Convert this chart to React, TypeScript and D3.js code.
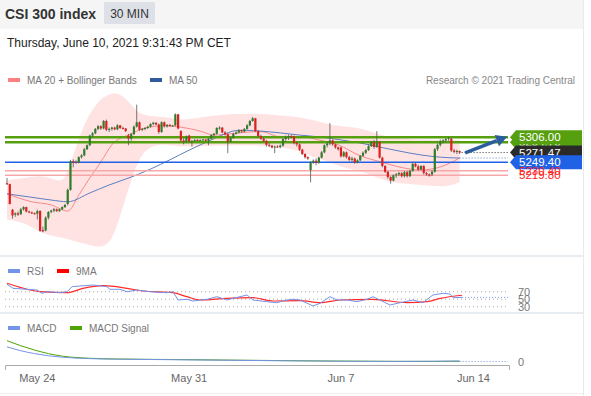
import * as d3 from "d3";

const FONT = '"Liberation Sans", Arial, sans-serif';

// 30 min candles, 11 per session, May 21 .. Jun 10: [open, high, low, close]
const candles: [number, number, number, number][] = [
  // May 21
  [5202, 5214, 5198, 5200], [5200, 5201, 5154, 5155], [5142, 5144, 5122, 5129], [5131, 5136, 5126, 5134],
  [5134, 5138, 5128, 5131], [5132, 5146, 5130, 5143], [5143, 5150, 5140, 5148], [5148, 5149, 5136, 5138],
  [5138, 5140, 5134, 5136], [5136, 5138, 5132, 5134], [5134, 5136, 5131, 5133],
  // May 24
  [5133, 5142, 5120, 5139], [5139, 5141, 5092, 5094], [5096, 5104, 5091, 5093], [5095, 5127, 5093, 5124],
  [5124, 5139, 5120, 5137], [5137, 5142, 5134, 5140], [5140, 5146, 5136, 5143], [5143, 5145, 5137, 5139],
  [5139, 5145, 5137, 5143], [5143, 5150, 5141, 5148], [5148, 5155, 5146, 5153],
  // May 25
  [5155, 5190, 5152, 5187], [5187, 5255, 5185, 5252], [5252, 5256, 5238, 5250], [5250, 5254, 5246, 5248],
  [5249, 5263, 5247, 5261], [5261, 5268, 5258, 5265], [5265, 5282, 5263, 5279], [5279, 5290, 5277, 5288],
  [5288, 5312, 5286, 5310], [5310, 5318, 5306, 5315], [5315, 5327, 5313, 5325],
  // May 26
  [5325, 5334, 5322, 5331], [5331, 5333, 5323, 5326], [5326, 5345, 5324, 5343], [5343, 5346, 5320, 5323],
  [5323, 5328, 5318, 5325], [5325, 5330, 5321, 5328], [5328, 5330, 5322, 5324], [5324, 5336, 5322, 5333],
  [5333, 5334, 5325, 5327], [5327, 5330, 5324, 5326], [5326, 5327, 5318, 5320],
  // May 27
  [5310, 5314, 5288, 5303], [5303, 5316, 5298, 5313], [5313, 5333, 5311, 5330], [5330, 5380, 5328, 5340],
  [5340, 5342, 5320, 5323], [5323, 5327, 5320, 5325], [5325, 5329, 5322, 5327], [5327, 5332, 5325, 5330],
  [5330, 5338, 5328, 5336], [5336, 5341, 5333, 5339], [5339, 5340, 5333, 5335],
  // May 28
  [5335, 5337, 5314, 5318], [5318, 5342, 5316, 5340], [5340, 5342, 5328, 5331], [5331, 5336, 5328, 5334],
  [5334, 5336, 5330, 5332], [5332, 5334, 5330, 5333], [5333, 5360, 5331, 5358], [5358, 5359, 5324, 5326],
  [5320, 5322, 5296, 5299], [5299, 5305, 5290, 5296], [5296, 5310, 5294, 5307],
  // May 31
  [5310, 5312, 5294, 5297], [5297, 5300, 5285, 5298], [5298, 5302, 5296, 5300], [5300, 5302, 5297, 5299],
  [5299, 5301, 5297, 5300], [5300, 5302, 5298, 5301], [5301, 5302, 5296, 5298], [5298, 5305, 5288, 5303],
  [5303, 5313, 5301, 5311], [5311, 5316, 5308, 5314], [5314, 5329, 5312, 5327],
  // Jun 1
  [5327, 5331, 5323, 5328], [5328, 5329, 5315, 5317], [5317, 5320, 5310, 5313], [5313, 5315, 5270, 5296],
  [5296, 5306, 5294, 5305], [5305, 5316, 5303, 5314], [5314, 5320, 5312, 5317], [5317, 5324, 5315, 5322],
  [5322, 5323, 5316, 5319], [5319, 5327, 5317, 5325], [5325, 5336, 5323, 5333],
  // Jun 2
  [5333, 5345, 5331, 5343], [5343, 5352, 5341, 5349], [5349, 5350, 5318, 5320], [5320, 5322, 5306, 5309],
  [5309, 5312, 5300, 5303], [5303, 5306, 5295, 5298], [5298, 5300, 5285, 5289], [5289, 5293, 5284, 5287],
  [5287, 5289, 5281, 5283], [5283, 5287, 5270, 5285], [5285, 5288, 5282, 5284],
  // Jun 3
  [5284, 5290, 5281, 5287], [5287, 5305, 5285, 5302], [5302, 5310, 5296, 5306], [5306, 5312, 5300, 5309],
  [5309, 5312, 5304, 5308], [5308, 5310, 5290, 5293], [5293, 5296, 5285, 5290], [5290, 5292, 5275, 5278],
  [5278, 5280, 5266, 5268], [5268, 5270, 5258, 5261], [5261, 5263, 5255, 5258],
  // Jun 4
  [5232, 5252, 5204, 5250], [5250, 5256, 5246, 5253], [5253, 5258, 5243, 5248], [5248, 5262, 5246, 5260],
  [5260, 5275, 5258, 5272], [5272, 5290, 5270, 5288], [5288, 5296, 5283, 5292], [5292, 5338, 5288, 5299],
  [5299, 5301, 5287, 5290], [5290, 5292, 5280, 5283], [5283, 5285, 5276, 5279],
  // Jun 7
  [5283, 5285, 5260, 5263], [5263, 5275, 5261, 5272], [5272, 5274, 5258, 5261], [5261, 5264, 5252, 5255],
  [5255, 5262, 5250, 5258], [5258, 5260, 5246, 5249], [5249, 5256, 5247, 5254], [5254, 5266, 5252, 5264],
  [5264, 5274, 5262, 5271], [5271, 5280, 5268, 5277], [5277, 5290, 5275, 5286],
  // Jun 8
  [5286, 5298, 5284, 5295], [5295, 5300, 5280, 5284], [5284, 5320, 5282, 5296], [5296, 5297, 5258, 5260],
  [5260, 5262, 5238, 5241], [5241, 5243, 5225, 5228], [5228, 5230, 5212, 5216], [5216, 5218, 5201, 5208],
  [5208, 5222, 5206, 5220], [5220, 5225, 5214, 5222], [5222, 5228, 5218, 5225],
  // Jun 9
  [5225, 5227, 5215, 5218], [5218, 5230, 5215, 5227], [5227, 5230, 5215, 5218], [5218, 5232, 5216, 5230],
  [5230, 5248, 5228, 5246], [5246, 5250, 5238, 5240], [5240, 5244, 5230, 5233], [5233, 5243, 5231, 5241],
  [5241, 5243, 5222, 5225], [5225, 5228, 5219, 5222], [5222, 5224, 5217, 5219],
  // Jun 10
  [5222, 5232, 5218, 5228], [5228, 5282, 5226, 5279], [5279, 5292, 5275, 5289], [5289, 5301, 5285, 5296],
  [5296, 5302, 5292, 5299], [5299, 5305, 5295, 5302], [5302, 5306, 5298, 5304], [5303, 5304, 5273, 5276],
  [5276, 5280, 5270, 5273], [5273, 5278, 5268, 5275], [5275, 5276, 5268, 5271.47],
];

const lastPrice = 5271.47;

const xTickIdx = [11, 66, 121, 169];
const xTickLabels = ["May 24", "May 31", "Jun 7", "Jun 14"];

// MA 20 (candle index, price)
const ma20Idx = [0, 9, 16, 22, 26, 30, 34, 38, 45, 50, 57, 63, 70, 75, 84, 92, 99, 107, 113, 120, 128, 135, 142, 150, 157, 164];
const ma20Val = [5178, 5160, 5153, 5139, 5175, 5214, 5250, 5289, 5314, 5327, 5332, 5329, 5320, 5311, 5316, 5319, 5307, 5307, 5300, 5289, 5264, 5251, 5239, 5232, 5239, 5259];

// MA 50
const ma50Idx = [0, 8, 16, 22, 30, 37, 45, 52, 59, 66, 74, 79, 84, 92, 99, 106, 113, 121, 128, 135, 142, 150, 157, 164];
const ma50Val = [5178, 5171, 5164, 5160, 5180, 5198, 5216, 5234, 5255, 5277, 5300, 5314, 5322, 5320, 5316, 5311, 5307, 5300, 5293, 5284, 5275, 5266, 5261, 5259];

// Bollinger bands
const bandIdx = [0, 7, 12, 18, 21, 25, 29, 34, 38, 41, 45, 48, 52, 58, 64, 74, 87, 99, 106, 111, 117, 121, 129, 135, 140, 150, 160, 164];
const bandUpper = [5209, 5214, 5221, 5208, 5205, 5286, 5352, 5396, 5406, 5406, 5380, 5358, 5354, 5352, 5343, 5356, 5361, 5356, 5352, 5345, 5334, 5331, 5327, 5311, 5305, 5300, 5300, 5300];
const bandLower = [5120, 5112, 5089, 5080, 5078, 5070, 5064, 5055, 5070, 5128, 5209, 5262, 5288, 5290, 5284, 5287, 5289, 5284, 5275, 5261, 5250, 5239, 5228, 5212, 5203, 5198, 5193, 5205];

// support / resistance levels
const levelValues = [5306.0, 5294.7, 5249.4, 5230.4, 5219.8];
const levelKinds = ["res", "res", "pivot", "sup", "sup"];

// forecast arrow (index, price)
const arrowIdx = [166, 181.2];
const arrowVal = [5270.5, 5307.4];

// RSI and its 9 period MA
const rsiIdx = [0, 2.2, 7.2, 10.9, 12.7, 14.5, 19.2, 21.7, 23.6, 26.4, 31.2, 36.2, 37.3, 40.9, 43.5, 47.1, 51.8, 58, 60.1, 62, 65.2, 67.4, 72.5, 76.1, 79.7, 81.9, 87, 89.1, 94.2, 97.8, 101.4, 103.6, 106.2, 110.9, 113.4, 117, 119.6, 123.2, 126.8, 130.4, 132.6, 135.1, 138.8, 142.4, 147.1, 150.7, 154.3, 158, 160.5, 161.6, 164.9];
const rsiVal = [89.7, 79, 76.4, 74.5, 65.7, 70, 67.4, 70, 83.4, 85.2, 87.9, 83.4, 76.4, 76.4, 70, 74.5, 70, 67.4, 70, 47.9, 49.7, 45.2, 49.7, 56.7, 47.9, 52.4, 61.2, 47.9, 43.3, 40.7, 47.9, 49.7, 47.9, 31.9, 39, 56.7, 47.9, 47.9, 43.3, 49.7, 56.7, 47.9, 34.5, 40.7, 47.9, 40.7, 61.2, 65.7, 64, 54, 54.9];
const rsiMaIdx = [0, 4.7, 12, 21.7, 27.5, 34.8, 43.5, 49.3, 60.1, 65.2, 69.9, 79.7, 89.1, 96.4, 106.2, 113.4, 120.7, 132.6, 144.9, 152.2, 156.9, 164.9];
const rsiMaVal = [92.4, 81.7, 70, 67.4, 79, 86.1, 79, 71.9, 67.4, 56.7, 47.9, 52.4, 54, 45.2, 46, 40.7, 47.9, 49.7, 40.7, 43.3, 52, 60.5];
const rsiLevels = [70, 50, 30];

// MACD
const macdIdx = [0, 5, 10, 15, 20, 30, 40, 60, 80, 100, 120, 140, 155, 164];
const macdVal = [41, 30, 22, 16, 12, 8, 6.5, 5, 3.5, 2, 0.8, 0.3, 0.8, 1.5];
const signalVal = [58, 44, 32, 22, 15, 9, 7, 5.5, 4, 2.5, 1.2, 0.4, 0.2, 0.6];

const colors = {
  up: "#2f7d2a",
  down: "#e01e1e",
  wick: "#555",
  band: "#ffe3e3",
  ma20: "#f58a8a",
  ma50: "#5b7fc2",
  res: "#56a010",
  pivot: "#1f62e6",
  sup: "#f7a7a7",
  rsi: "#7593e8",
  rsiMa: "#ff2a2a",
  macd: "#7593e8",
  signal: "#4ea306",
};

const x = d3.scaleLinear().domain([0, 182]).range([7, 509.3]);
const yP = d3.scaleLinear().domain([5249.4, 5306]).range([162.3, 137.3]);
const yR = d3.scaleLinear().domain([30, 70]).range([306.7, 291.7]);
const yM = d3.scaleLinear().domain([0, 60]).range([361.5, 340]);

const plotRight = 508;

function zipLine(idx: number[], vals: number[], ys: d3.ScaleLinear<number, number>, curve = d3.curveMonotoneX) {
  const pts = idx.map((d, i) => [d, vals[i]] as [number, number]);
  return d3.line<[number, number]>().x((d) => x(d[0])).y((d) => ys(d[1])).curve(curve)(pts) ?? "";
}

function PriceTag({ y, text, fill }: { y: number; text: string; fill: string }) {
  const left = 510;
  const right = 582;
  const h = 7;
  return (
    <g>
      <path d={`M${left},${y} L${left + 6},${y - h} L${right},${y - h} L${right},${y + h} L${left + 6},${y + h} Z`} fill={fill} />
      <text x={519} y={y + 4} fontSize={11.5} fill="#fff">{text}</text>
    </g>
  );
}

export default function App() {
  const last = candles.length - 1;

  const bandPts = bandIdx.map((d, i) => ({ i: d, u: bandUpper[i], l: bandLower[i] }));
  const bandPath = d3.area<{ i: number; u: number; l: number }>()
    .x((d) => x(d.i))
    .y0((d) => yP(d.l))
    .y1((d) => yP(d.u))
    .curve(d3.curveBasis)(bandPts) ?? "";

  const ax0 = x(arrowIdx[0]);
  const ay0 = yP(arrowVal[0]);
  const ax1 = x(arrowIdx[1]);
  const ay1 = yP(arrowVal[1]);
  const ang = Math.atan2(ay1 - ay0, ax1 - ax0);
  const headLen = 11;
  const headW = 6;
  const bx = ax1 - headLen * Math.cos(ang);
  const by = ay1 - headLen * Math.sin(ang);
  const head = `M${ax1},${ay1} L${bx + headW * Math.sin(ang)},${by - headW * Math.cos(ang)} L${bx - headW * Math.sin(ang)},${by + headW * Math.cos(ang)} Z`;

  return (
    <svg width={591} height={396} style={{ position: "absolute", left: 0, top: 0, background: "#fff" }} fontFamily={FONT}>
      {/* header */}
      <rect x={0} y={0} width={583} height={29} fill="#f5f5f5" />
      <text x={5} y={19} fontSize={14} fontWeight="bold" fill="#333">CSI 300 index</text>
      <rect x={104} y={2} width={51} height={22} fill="#dde1e7" rx={1} />
      <text x={129.5} y={18} fontSize={12} fill="#333" textAnchor="middle">30 MIN</text>
      <text x={7} y={47} fontSize={12} fill="#222">Thursday, June 10, 2021 9:31:43 PM CET</text>

      {/* legend */}
      <rect x={8} y={78} width={12} height={4} fill="#ff8080" />
      <text x={27} y={84} fontSize={10} fill="#777">MA 20 + Bollinger Bands</text>
      <rect x={150} y={78} width={12} height={4} fill="#2f5b9c" />
      <text x={169} y={84} fontSize={10} fill="#777">MA 50</text>
      <text x={575} y={84} fontSize={10} fill="#888" textAnchor="end">Research © 2021 Trading Central</text>

      {/* borders */}
      <line x1={583.5} x2={583.5} y1={0} y2={396} stroke="#eaeaea" />
      <line x1={0} x2={583} y1={256} y2={256} stroke="#e8edf2" strokeWidth={2} />
      <line x1={0} x2={583} y1={313} y2={313} stroke="#e8edf2" strokeWidth={2} />
      <line x1={0} x2={583} y1={393.5} y2={393.5} stroke="#eeeeee" />

      {/* bollinger + MAs */}
      <path d={bandPath} fill={colors.band} />
      <path d={zipLine(ma20Idx, ma20Val, yP)} fill="none" stroke={colors.ma20} strokeWidth={1} />
      <path d={zipLine(ma50Idx, ma50Val, yP)} fill="none" stroke={colors.ma50} strokeWidth={1} />
      <line x1={x(last)} x2={plotRight} y1={yP(ma50Val[ma50Val.length - 1])} y2={yP(ma50Val[ma50Val.length - 1])}
        stroke={colors.ma50} strokeDasharray="1,2" />

      {/* levels */}
      {levelValues.map((v, i) => (
        <line key={i} x1={5} x2={plotRight} y1={yP(v)} y2={yP(v)}
          stroke={colors[levelKinds[i] as "res" | "pivot" | "sup"]}
          strokeWidth={levelKinds[i] === "res" ? 2.5 : 1.5} />
      ))}

      {/* candles */}
      {candles.map(([o, h, l, c], i) => {
        const cx = x(i);
        const top = yP(Math.max(o, c));
        const bh = Math.max(1, Math.abs(yP(o) - yP(c)));
        const fill = c > o ? colors.up : c < o ? colors.down : "#777";
        return (
          <g key={i}>
            <line x1={cx} x2={cx} y1={yP(h)} y2={yP(l)} stroke={colors.wick} strokeWidth={0.8} />
            <rect x={cx - 1.1} y={top} width={2.2} height={bh} fill={fill} />
          </g>
        );
      })}

      {/* last price projection */}
      <line x1={x(last) + 2} x2={plotRight} y1={yP(lastPrice)} y2={yP(lastPrice)} stroke="#333" strokeDasharray="1,2" />

      {/* forecast arrow */}
      <line x1={ax0} y1={ay0} x2={bx} y2={by} stroke="#2b5d9e" strokeWidth={3.5} />
      <path d={head} fill="#2b5d9e" />

      {/* tags */}
      <PriceTag y={yP(levelValues[1])} text={levelValues[1].toFixed(2)} fill={colors.res} />
      <PriceTag y={yP(lastPrice)} text={lastPrice.toFixed(2)} fill="#2a2a2a" />
      <PriceTag y={yP(levelValues[0])} text={levelValues[0].toFixed(2)} fill={colors.res} />
      <PriceTag y={yP(levelValues[2])} text={levelValues[2].toFixed(2)} fill={colors.pivot} />
      {[3, 4].map((k) => (
        <text key={k} x={519} y={yP(levelValues[k]) + 4} fontSize={11.5} fill="#ff1a1a">{levelValues[k].toFixed(2)}</text>
      ))}

      {/* RSI panel */}
      <rect x={8} y={269} width={12} height={4} fill={colors.rsi} />
      <text x={27} y={275} fontSize={10} fill="#777">RSI</text>
      <rect x={57} y={269} width={12} height={4} fill="#ff0000" />
      <text x={76} y={275} fontSize={10} fill="#777">9MA</text>
      {rsiLevels.map((v) => (
        <g key={v}>
          <line x1={5} x2={plotRight} y1={yR(v)} y2={yR(v)} stroke="#aaa" strokeDasharray="1,3" />
          <text x={518} y={yR(v) + 4} fontSize={11} fill="#777">{v}</text>
        </g>
      ))}
      <path d={zipLine(rsiMaIdx, rsiMaVal, yR)} fill="none" stroke={colors.rsiMa} strokeWidth={1.2} />
      <path d={zipLine(rsiIdx, rsiVal, yR, d3.curveLinear)} fill="none" stroke={colors.rsi} strokeWidth={1} />
      <line x1={x(rsiIdx[rsiIdx.length - 1])} x2={plotRight} y1={yR(rsiVal[rsiVal.length - 1])} y2={yR(rsiVal[rsiVal.length - 1])}
        stroke={colors.rsi} strokeDasharray="1,2" />

      {/* MACD panel */}
      <rect x={8} y={326} width={12} height={4} fill={colors.macd} />
      <text x={27} y={332} fontSize={10} fill="#777">MACD</text>
      <rect x={70} y={326} width={12} height={4} fill={colors.signal} />
      <text x={89} y={332} fontSize={10} fill="#777">MACD Signal</text>
      <path d={zipLine(macdIdx, signalVal, yM)} fill="none" stroke={colors.signal} strokeWidth={1} />
      <path d={zipLine(macdIdx, macdVal, yM)} fill="none" stroke={colors.macd} strokeWidth={1} />
      <line x1={x(macdIdx[macdIdx.length - 1])} x2={plotRight} y1={yM(0)} y2={yM(0)} stroke={colors.macd} strokeDasharray="1,2" />
      <text x={518} y={yM(0) + 4} fontSize={11} fill="#777">0</text>

      {/* x axis */}
      <path d="M5.5,370 V365.5 H509.5 V370" fill="none" stroke="#aaa" />
      {xTickIdx.map((t, i) => (
        <text key={t} x={x(t)} y={382} fontSize={11} fill="#666" textAnchor="middle">{xTickLabels[i]}</text>
      ))}
    </svg>
  );
}
